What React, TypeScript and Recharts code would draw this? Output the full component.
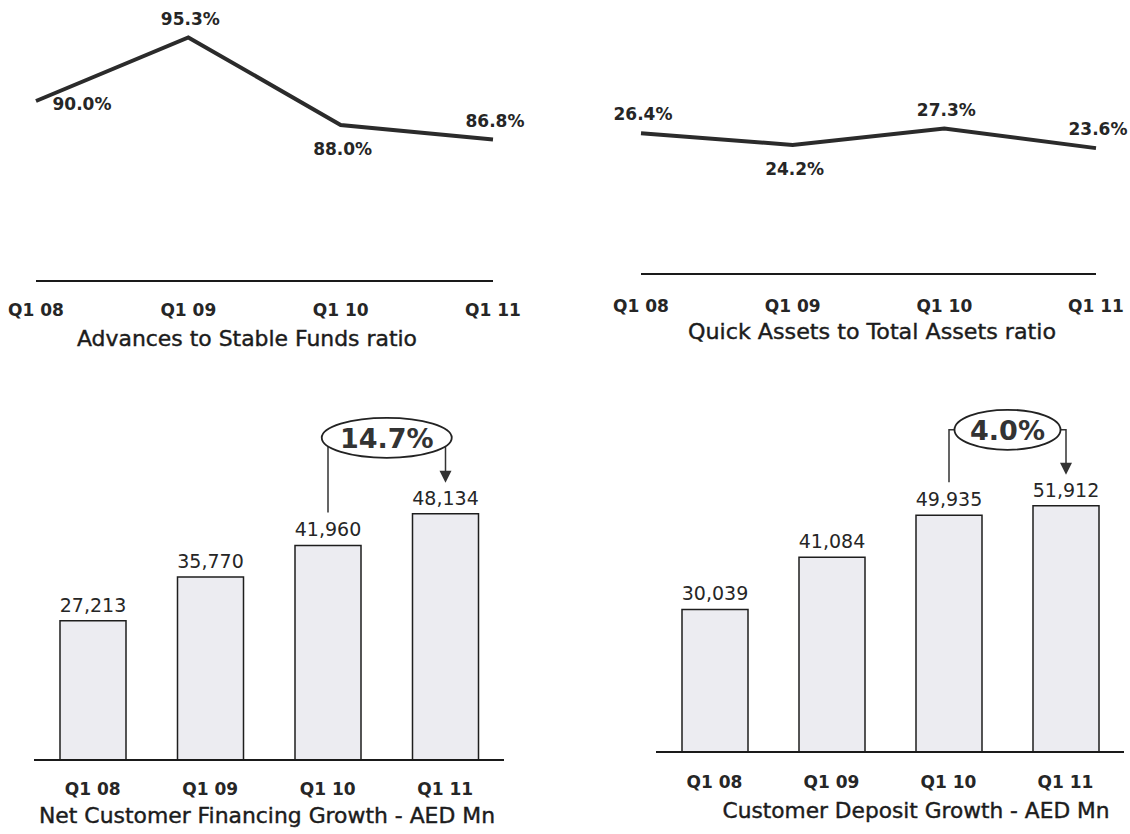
import React from 'react';
import { LineChart, Line, BarChart, Bar, XAxis, YAxis } from 'recharts';

// values
const quarters = ['Q1 08', 'Q1 09', 'Q1 10', 'Q1 11'];
const advancesRatio = [90.0, 95.3, 88.0, 86.8];
const quickAssetsRatio = [26.4, 24.2, 27.3, 23.6];
const netFinancing = [27213, 35770, 41960, 48134];
const customerDeposits = [30039, 41084, 49935, 51912];
const financingGrowth = '14.7%';
const depositGrowth = '4.0%';

const TEXT = '#262626';
const SANS = '"DejaVu Sans", Verdana, sans-serif';

type Placement = 'above' | 'below' | 'right';
const advancesPlacement: Placement[] = ['right', 'above', 'below', 'above'];
const quickPlacement: Placement[] = ['above', 'below', 'above', 'above'];

const toRows = (values: number[]) => quarters.map((q, i) => ({ q, v: values[i] }));

const pos = (props: any) => {
  const vb = props.viewBox || {};
  const x = props.x ?? vb.x;
  const y = props.y ?? vb.y;
  const width = props.width ?? vb.width ?? 0;
  return { x: Number(x), y: Number(y), width: Number(width) };
};

const QuarterTick = ({ x, y, payload, drop }: any) => (
  <text x={x} y={y + drop} dy="0.36em" textAnchor="middle" fontFamily={SANS} fontWeight="bold" fontSize={17} fill={TEXT}>
    {payload.value}
  </text>
);

interface RatioProps {
  left: number;
  top: number;
  values: number[];
  domain: [number, number];
  margin: { top: number; left: number; right: number; bottom: number };
  tickDrop: number;
  placement: Placement[];
}

function RatioChart({ left, top, values, domain, margin, tickDrop, placement }: RatioProps) {
  const renderLabel = (props: any) => {
    const { x, y } = pos(props);
    const i = props.index ?? values.indexOf(props.value);
    const where = placement[i];
    const dx = where === 'right' ? 46 : 2;
    const dy = where === 'above' ? -19 : where === 'below' ? 24 : 3;
    return (
      <text key={`lbl-${i}`} x={x + dx} y={y + dy} dy="0.36em" textAnchor="middle" fontFamily={SANS} fontWeight="bold" fontSize={17} fill={TEXT}>
        {values[i].toFixed(1)}%
      </text>
    );
  };
  return (
    <div style={{ position: 'absolute', left, top }}>
      <LineChart width={560} height={350} data={toRows(values)} margin={margin}>
        <XAxis
          dataKey="q"
          height={40}
          tickLine={false}
          tickSize={0}
          tickMargin={0}
          axisLine={{ stroke: '#1a1a1a', strokeWidth: 2 }}
          tick={(p: any) => <QuarterTick {...p} drop={tickDrop} />}
        />
        <YAxis hide domain={domain} allowDataOverflow />
        <Line
          type="linear"
          dataKey="v"
          stroke="#2b2b2b"
          strokeWidth={4}
          dot={false}
          label={renderLabel}
          isAnimationActive={false}
        />
      </LineChart>
    </div>
  );
}

type Pt = { cx: number; top: number };

interface GrowthProps {
  left: number;
  top: number;
  width: number;
  values: number[];
  growth: string;
  rx: number;
  margin: { top: number; left: number; right: number; bottom: number };
  tickDrop: number;
}

function GrowthChart({ left, top, width, values, growth, rx, margin, tickDrop }: GrowthProps) {
  const seen: Pt[] = [];
  const renderLabel = (props: any) => {
    const { x, y, width: w } = pos(props);
    const i = props.index ?? values.indexOf(props.value);
    const cx = x + w / 2;
    seen[i] = { cx, top: y };
    const value = (
      <text x={cx} y={y - 16} dy="0.36em" textAnchor="middle" fontFamily={SANS} fontSize={19} fill={TEXT}>
        {values[i].toLocaleString('en-US')}
      </text>
    );
    if (i !== values.length - 1 || !seen[i - 1]) return <g key={`lbl-${i}`}>{value}</g>;

    // growth bubble between the last two bars
    const prev = seen[i - 1];
    const ex = (prev.cx + cx) / 2;
    const ey = y - 76;
    const tip = y - 31;
    return (
      <g key={`lbl-${i}`}>
        {value}
        <path d={`M${prev.cx},${prev.top - 33} V${ey} H${ex}`} fill="none" stroke="#333" strokeWidth={1.5} />
        <path d={`M${ex},${ey} H${cx} V${tip - 11}`} fill="none" stroke="#333" strokeWidth={1.5} />
        <path d={`M${cx - 6},${tip - 12} L${cx + 6},${tip - 12} L${cx},${tip} Z`} fill="#333" />
        <ellipse cx={ex} cy={ey} rx={rx} ry={20} fill="#fff" stroke="#222" strokeWidth={1.8} />
        <text x={ex} y={ey} dy="0.36em" textAnchor="middle" fontFamily={SANS} fontWeight="bold" fontSize={27} fill="#333">
          {growth}
        </text>
      </g>
    );
  };
  return (
    <div style={{ position: 'absolute', left, top }}>
      <BarChart width={width} height={454} data={toRows(values)} margin={margin}>
        <XAxis
          dataKey="q"
          height={40}
          tickLine={false}
          tickSize={0}
          tickMargin={0}
          axisLine={{ stroke: '#1a1a1a', strokeWidth: 2 }}
          tick={(p: any) => <QuarterTick {...p} drop={tickDrop} />}
        />
        <YAxis hide domain={[0, 70000]} allowDataOverflow />
        <Bar
          dataKey="v"
          barSize={66}
          fill="#ececf1"
          stroke="#1e1e1e"
          strokeWidth={1.5}
          label={renderLabel}
          isAnimationActive={false}
        />
      </BarChart>
    </div>
  );
}

const titles = [
  { text: 'Advances to Stable Funds ratio', cx: 247, base: 346, w: 340 },
  { text: 'Quick Assets to Total Assets ratio', cx: 872, base: 339, w: 368 },
  { text: 'Net Customer Financing Growth - AED Mn', cx: 267, base: 823, w: 456 },
  { text: 'Customer Deposit Growth - AED Mn', cx: 916, base: 818, w: 387 },
];

export default function App() {
  return (
    <div style={{ position: 'absolute', left: 0, top: 0, width: 1130, height: 834, background: '#fff', overflow: 'hidden' }}>
      <RatioChart
        left={0}
        top={0}
        values={advancesRatio}
        domain={[75, 97]}
        margin={{ top: 17, left: 36, right: 67, bottom: 29 }}
        tickDrop={29}
        placement={advancesPlacement}
      />
      <RatioChart
        left={570}
        top={0}
        values={quickAssetsRatio}
        domain={[0, 48]}
        margin={{ top: 18, left: 71, right: 34, bottom: 36 }}
        tickDrop={32}
        placement={quickPlacement}
      />
      <GrowthChart
        left={0}
        top={380}
        width={560}
        values={netFinancing}
        growth={financingGrowth}
        rx={65}
        margin={{ top: 22, left: 34, right: 56, bottom: 34 }}
        tickDrop={29}
      />
      <GrowthChart
        left={600}
        top={380}
        width={530}
        values={customerDeposits}
        growth={depositGrowth}
        rx={53}
        margin={{ top: 40, left: 56, right: 6, bottom: 42 }}
        tickDrop={30}
      />
      <svg width={1130} height={834} style={{ position: 'absolute', left: 0, top: 0, pointerEvents: 'none' }}>
        {titles.map((t) => (
          <text
            key={t.text}
            x={t.cx}
            y={t.base}
            textAnchor="middle"
            textLength={t.w}
            lengthAdjust="spacingAndGlyphs"
            fontFamily={SANS}
            fontSize={21}
            fill="#1c1c1c"
            stroke="#1c1c1c"
            strokeWidth={0.4}
          >
            {t.text}
          </text>
        ))}
      </svg>
    </div>
  );
}
